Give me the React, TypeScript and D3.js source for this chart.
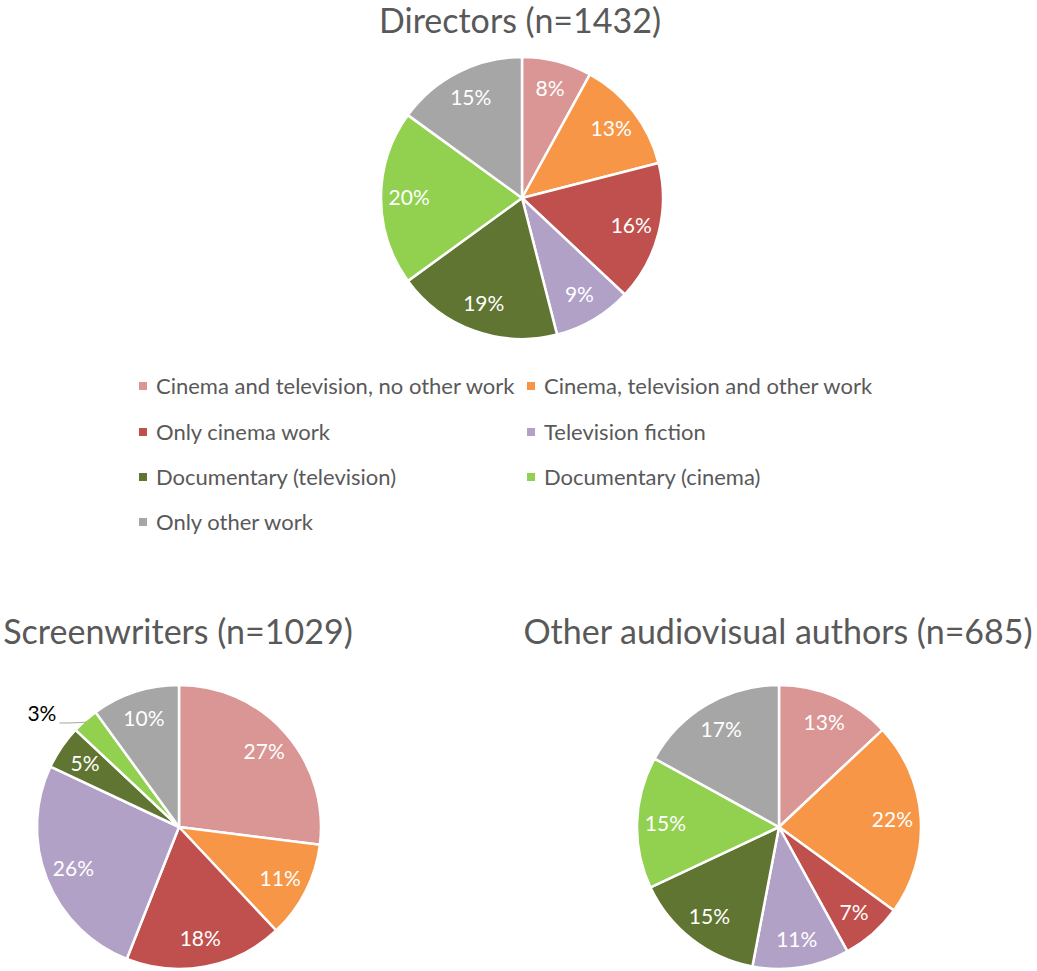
import React from "react";
import * as d3 from "d3";

const categories = [
  "Cinema and television, no other work",
  "Cinema, television and other work",
  "Only cinema work",
  "Television fiction",
  "Documentary (television)",
  "Documentary (cinema)",
  "Only other work",
];
const colors = ["#D99694", "#F79646", "#C0504D", "#B2A1C7", "#607531", "#92D050", "#A6A6A6"];

const directors = [8, 13, 16, 9, 19, 20, 15];
const screenwriters = [27, 11, 18, 26, 5, 3, 10];
const others = [13, 22, 7, 11, 15, 15, 17];

const titles = ["Directors (n=1432)", "Screenwriters (n=1029)", "Other audiovisual authors (n=685)"];

const FONT = "Lato, 'Open Sans', sans-serif";
const TXT = "#595959";

type PieProps = {
  values: number[];
  cx: number;
  cy: number;
  r: number;
  title: string;
  titleY: number;
  titleX: number;
  outsideIdx?: number[];
};

function Pie({ values, cx, cy, r, title, titleY, titleX, outsideIdx = [] }: PieProps) {
  const pie = d3.pie<number>().sort(null).value((d) => d);
  const arcs = pie(values);
  const arc = d3.arc<d3.PieArcDatum<number>>().innerRadius(0).outerRadius(r);
  const labelArc = d3.arc<d3.PieArcDatum<number>>().innerRadius(r * 0.8).outerRadius(r * 0.8);
  return (
    <g>
      <text x={titleX} y={titleY} textAnchor="middle" fontFamily={FONT} fontSize={34} fill={TXT}>
        {title}
      </text>
      <g transform={`translate(${cx},${cy})`}>
        {arcs.map((a, i) => (
          <path key={i} d={arc(a) || ""} fill={colors[i]} stroke="#fff" strokeWidth={2.5} strokeLinejoin="round" />
        ))}
        {arcs.map((a, i) => {
          const mid = (a.startAngle + a.endAngle) / 2;
          if (outsideIdx.includes(i)) {
            const ex = Math.sin(mid) * (r - 2);
            const ey = -Math.cos(mid) * (r - 2);
            const lx = ex - 27;
            const ly = ey + 1;
            return (
              <g key={"l" + i}>
                <path d={`M${ex},${ey} Q${ex - 8},${ly} ${lx},${ly}`} fill="none" stroke="#A6A6A6" strokeWidth={1.2} />
                <text x={lx - 3} y={ly - 4} dy="0.1em" textAnchor="end" fontFamily={FONT} fontSize={21} fill="#000">
                  {a.data}%
                </text>
              </g>
            );
          }
          const [x, y] = labelArc.centroid(a);
          return (
            <text key={"l" + i} x={x} y={y} dy="0.35em" textAnchor="middle" fontFamily={FONT} fontSize={21} fill="#fff">
              {a.data}%
            </text>
          );
        })}
      </g>
    </g>
  );
}

export default function App() {
  const legendRows = [386, 432, 477, 522];
  const legendCols = [139, 527];
  return (
    <svg width={1037} height={971} style={{ position: "absolute", left: 0, top: 0, background: "#fff" }}>
      <Pie values={directors} cx={522} cy={198} r={141} title={titles[0]} titleX={520} titleY={33} />
      <g>
        {categories.map((c, i) => {
          const x = legendCols[i % 2];
          const y = legendRows[Math.floor(i / 2)];
          return (
            <g key={c}>
              <rect x={x} y={y - 4} width={8} height={8} fill={colors[i]} />
              <text x={x + 17} y={y} dy="0.35em" fontFamily={FONT} fontSize={22} fill={TXT}>
                {c}
              </text>
            </g>
          );
        })}
      </g>
      <Pie values={screenwriters} cx={179} cy={827} r={142} title={titles[1]} titleX={178} titleY={644} outsideIdx={[5]} />
      <Pie values={others} cx={779} cy={827} r={142} title={titles[2]} titleX={778} titleY={644} />
    </svg>
  );
}
